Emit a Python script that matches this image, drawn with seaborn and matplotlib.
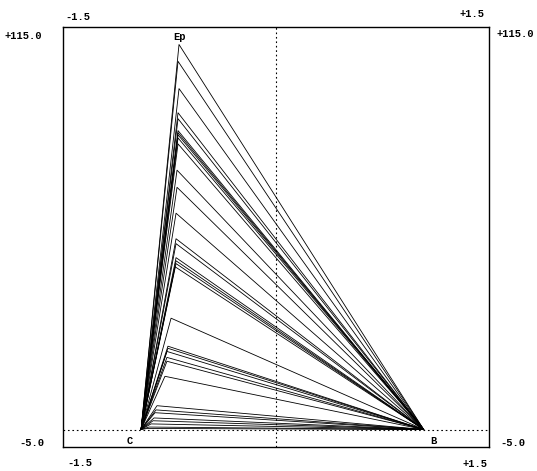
import numpy as np
import pandas as pd
import matplotlib
matplotlib.use("Agg")
import matplotlib.pyplot as plt
import seaborn as sns

# Fixed end points of every polyline
c_point = (-0.95, 0.0)
b_point = (1.04, 0.0)

# Apex of each polyline (x, y)
apex_x = [-0.683, -0.690, -0.683, -0.690, -0.690, -0.690, -0.690, -0.690,
          -0.690, -0.690, -0.697, -0.697, -0.704, -0.704, -0.704, -0.704,
          -0.704, -0.704, -0.711, -0.739, -0.761, -0.761, -0.768, -0.768,
          -0.768, -0.782, -0.838, -0.845, -0.852, -0.859, -0.866, -0.880,
          -0.894, -0.905]
apex_y = [110.0, 105.2, 97.4, 90.5, 88.8, 85.4, 84.8, 84.2,
          83.3, 81.6, 74.1, 69.2, 61.8, 54.5, 53.1, 49.1,
          48.2, 47.4, 46.5, 31.8, 23.8, 23.2, 22.3, 20.6,
          19.5, 15.2, 6.8, 5.6, 4.8, 3.3, 2.5, 1.6,
          0.7, 0.3]

x_limits = (-1.5, 1.5)
y_limits = (-5.0, 115.0)
x_tick_labels = ["-1.5", "+1.5"]
y_tick_labels = ["-5.0", "+115.0"]
point_labels = ["Ep", "C", "B"]

rows = []
for i, (ax_, ay_) in enumerate(zip(apex_x, apex_y)):
    rows.append({"id": i, "order": 0, "x": c_point[0], "y": c_point[1]})
    rows.append({"id": i, "order": 1, "x": ax_, "y": ay_})
    rows.append({"id": i, "order": 2, "x": b_point[0], "y": b_point[1]})
df = pd.DataFrame(rows)

sns.set_theme(style="white")
plt.rcParams["font.family"] = ["Liberation Mono", "DejaVu Sans Mono"]

W, H = 537, 471
fig = plt.figure(figsize=(W / 100, H / 100), dpi=100)
ax = fig.add_axes([63 / W, 1 - 447 / H, (489 - 63) / W, (447 - 27) / H])

sns.lineplot(data=df, x="x", y="y", units="id", estimator=None, sort=False,
             color="black", lw=0.6, ax=ax, legend=False)

ax.axvline(0, color="black", lw=0.8, ls=(0, (1.5, 2.5)))
ax.axhline(0, color="black", lw=0.8, ls=(0, (1.5, 2.5)))

ax.set_xlim(*x_limits)
ax.set_ylim(*y_limits)
ax.set_xticks([])
ax.set_yticks([])
ax.set_xlabel("")
ax.set_ylabel("")
for s in ax.spines.values():
    s.set_color("black")
    s.set_linewidth(1.0)

tkw = dict(fontsize=7.5, fontweight="bold", ha="center", va="center", color="black")
# point labels
ax.text(-0.68, 112.2, point_labels[0], **tkw)
ax.text(-1.03, -3.3, point_labels[1], **tkw)
ax.text(1.105, -3.3, point_labels[2], **tkw)

def ft(px, py, s):
    fig.text(px / W, 1 - py / H, s, **tkw)

ft(78, 17, x_tick_labels[0])
ft(472, 14, x_tick_labels[1])
ft(80, 463, x_tick_labels[0])
ft(475, 464, x_tick_labels[1])
ft(23, 36, y_tick_labels[1])
ft(515, 34, y_tick_labels[1])
ft(32, 443, y_tick_labels[0])
ft(513, 443, y_tick_labels[0])

fig.savefig("out.png", dpi=100, facecolor="white")
